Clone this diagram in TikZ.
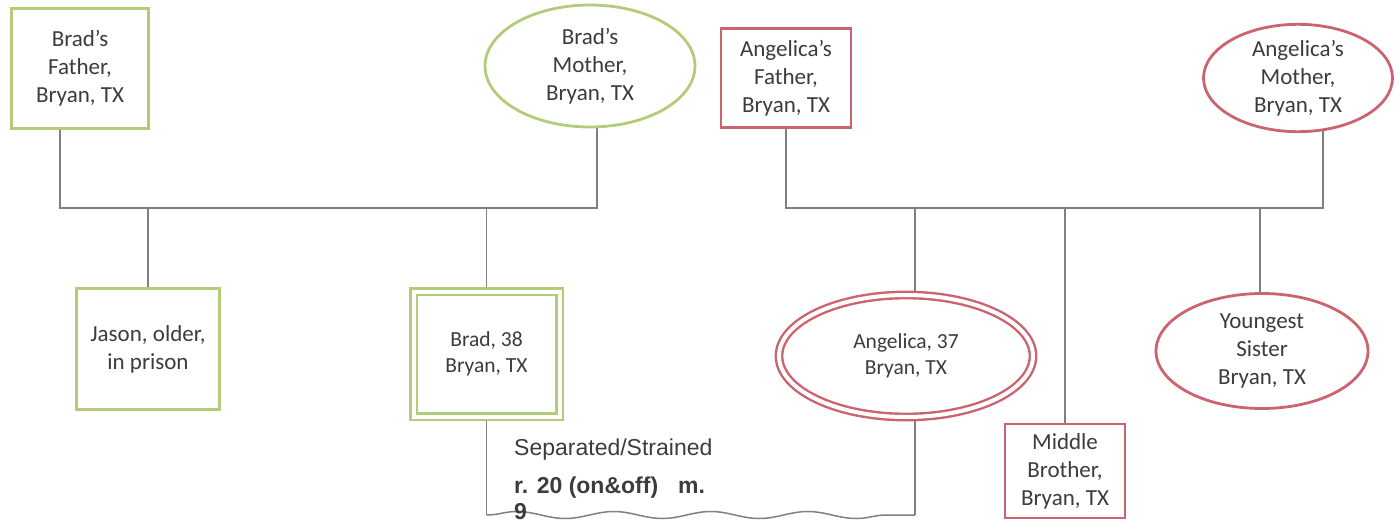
\documentclass[tikz,border=0pt]{standalone}
\usepackage{fontspec}
\setmainfont{Carlito}
\newfontfamily\arialfont{Liberation Sans}
\usetikzlibrary{shapes.geometric,backgrounds,decorations.pathmorphing}
\definecolor{kinGreen}{HTML}{B3CC78}
\definecolor{kinRed}{HTML}{CC6470}
\definecolor{linkGray}{HTML}{808080}
\definecolor{inkGray}{HTML}{3C3C3C}
\begin{document}
\begin{tikzpicture}[x=1pt,y=-1pt,
  person/.style={align=center, text=inkGray, font=\fontsize{23}{28}\selectfont,
    inner sep=0pt, line width=2.8pt, fill=white},
  greenbox/.style={person, rectangle, draw=kinGreen},
  greenoval/.style={person, ellipse, draw=kinGreen},
  redbox/.style={person, rectangle, draw=kinRed},
  redoval/.style={person, ellipse, draw=kinRed},
  focal/.style={line width=2.4pt, double=white, double distance=4pt,
    font=\fontsize{21.5}{26.5}\selectfont},
  link/.style={draw=linkGray, line width=1.5pt},
  note/.style={anchor=base west, inner sep=0pt, text=inkGray}
]
\useasboundingbox (0,0) rectangle (1395,522);

% Brad's family
\node[greenbox, minimum width=137pt, minimum height=120pt] (bf) at (80,68.5) {Brad’s\\Father,\\Bryan, TX};
\node[greenoval, minimum width=210pt, minimum height=122pt] (bm) at (590,66) {Brad’s\\Mother,\\Bryan, TX};
\node[greenbox, minimum width=143pt, minimum height=121pt] (jason) at (148,349) {Jason, older,\\in prison};
\node[greenbox, focal, minimum width=146pt, minimum height=125pt] (brad) at (486.5,354) {Brad, 38\\Bryan, TX};

% Angelica's family
\node[redbox, minimum width=130pt, minimum height=99pt] (af) at (786,78) {Angelica’s\\Father,\\Bryan, TX};
\node[redoval, minimum width=189pt, minimum height=97pt] (am) at (1298,78) {Angelica’s\\Mother,\\Bryan, TX};
\node[redoval, focal, minimum width=254pt, minimum height=122pt] (ang) at (906,356) {Angelica, 37\\Bryan, TX};
\node[redoval, minimum width=212pt, minimum height=115pt] (ys) at (1262,351) {Youngest\\Sister\\Bryan, TX};
\node[redbox, minimum width=120pt, minimum height=94pt] (mb) at (1065,471) {Middle\\Brother,\\Bryan, TX};

% bar and drop points
\coordinate (lbarL) at (60,208);
\coordinate (lbarR) at (597,208);
\coordinate (rbarR) at (1323,208);
\coordinate (angx) at (915,208);
\coordinate (ysx) at (1260,208);
\coordinate (wl) at (486.5,515);
\coordinate (wr) at (915,515);

\begin{scope}[on background layer]
  \draw[link] (bf.south -| lbarL) -- (lbarL) -- (lbarR) -- (lbarR |- bm.center);
  \draw[link] (jason.north) -- (jason.north |- lbarL);
  \draw[link] (brad.north) -- (brad.north |- lbarL);
  \draw[link] (af.south) |- (rbarR) -- (rbarR |- am.center);
  \draw[link] (angx) -- (angx |- ang.center);
  \draw[link] (mb.north) -- (mb.north |- rbarR);
  \draw[link] (ysx) -- (ysx |- ys.center);
  % relationship bracket
  \draw[link] (brad.center) -- (wl);
  \draw[link] (angx |- ang.center) -- (wr);
  \draw[link, decorate, decoration={snake, amplitude=3.5pt, segment length=97pt}] (wl) -- (wr);
\end{scope}

\node[note, font=\arialfont\fontsize{23}{26}\selectfont] (sep) at (514,455) {Separated/Strained};
\node[note, font=\arialfont\bfseries\fontsize{23}{26}\selectfont] (rel) at (514,493) {r. 20 (on\&off)\hspace{20pt}m.};
\node[note, font=\arialfont\bfseries\fontsize{23}{26}\selectfont] (relb) at (514,519) {9};
\end{tikzpicture}
\end{document}
